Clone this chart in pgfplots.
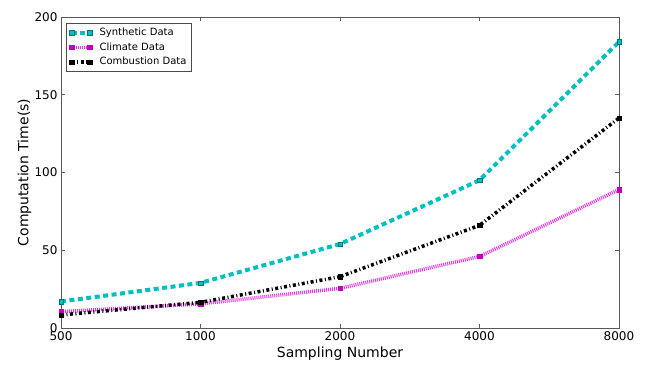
\documentclass[border=0pt]{standalone}
\usepackage{pgfplots}
\pgfplotsset{compat=1.18}
\usepackage{fontspec}
\setmainfont{DejaVu Sans}
\definecolor{mc}{RGB}{0,191,191}
\definecolor{mm}{RGB}{191,0,191}
\definecolor{mml}{RGB}{225,60,225}
\begin{document}
\begin{tikzpicture}[x=1pt,y=1pt]
\fill[white] (-61,-36) rectangle (584,328);
\begin{axis}[
  at={(0,0)}, anchor=south west,
  scale only axis, width=558pt, height=311pt,
  xmin=0, xmax=4, ymin=0, ymax=200,
  xtick={0,1,2,3,4}, xticklabels={500,1000,2000,4000,8000},
  ytick={0,50,100,150,200},
  /pgf/number format/assume math mode=true,
  tick label style={font=\fontsize{12}{14}\selectfont},
  label style={font=\fontsize{14}{16}\selectfont},
  xlabel={Sampling Number}, ylabel={Computation Time(s)},
  xlabel style={at={(axis description cs:0.5,-0.084)}, anchor=center},
  ylabel style={at={(axis description cs:-0.0654,0.5)}, anchor=center},
  axis line style={black!65, line width=0.8pt},
  major tick style={black!65, line width=0.6pt},
  major tick length=4pt,
  tick align=inside,
  legend style={at={(axis description cs:0.009,0.981)}, anchor=north west,
    font=\fontsize{10}{12}\selectfont, draw=black!70, line width=0.6pt,
    inner xsep=3pt, inner ysep=3pt, row sep=1.5pt, cells={anchor=west}},
  legend image code/.code={\draw[#1] plot coordinates {(0pt,0pt) (18pt,0pt)}; \path (24pt,0pt);},
]
\addplot[color=mc, line width=4pt, dash pattern=on 5pt off 3.5pt,
  mark=square*, mark size=2.2pt, mark options={solid, fill=mc, draw=mc!60!black, line width=0.4pt}]
  coordinates {(0,17) (1,29) (2,54) (3,95) (4,184)};
\addlegendentry{Synthetic Data}
\addplot[color=mml, line width=3.5pt, dash pattern=on 1pt off 1pt,
  mark=square*, mark size=2.2pt, mark options={solid, fill=mm, draw=mm, line width=0.4pt}]
  coordinates {(0,10.5) (1,15.5) (2,25.5) (3,46) (4,89)};
\addlegendentry{Climate Data}
\addplot[color=black, line width=3.5pt, dash pattern=on 3pt off 2.5pt on 1pt off 2.5pt,
  mark=square*, mark size=2.2pt, mark options={solid, fill=black, line width=0.4pt}]
  coordinates {(0,8.4) (1,16.5) (2,33) (3,66) (4,135)};
\addlegendentry{Combustion Data}
\end{axis}
\end{tikzpicture}
\end{document}
